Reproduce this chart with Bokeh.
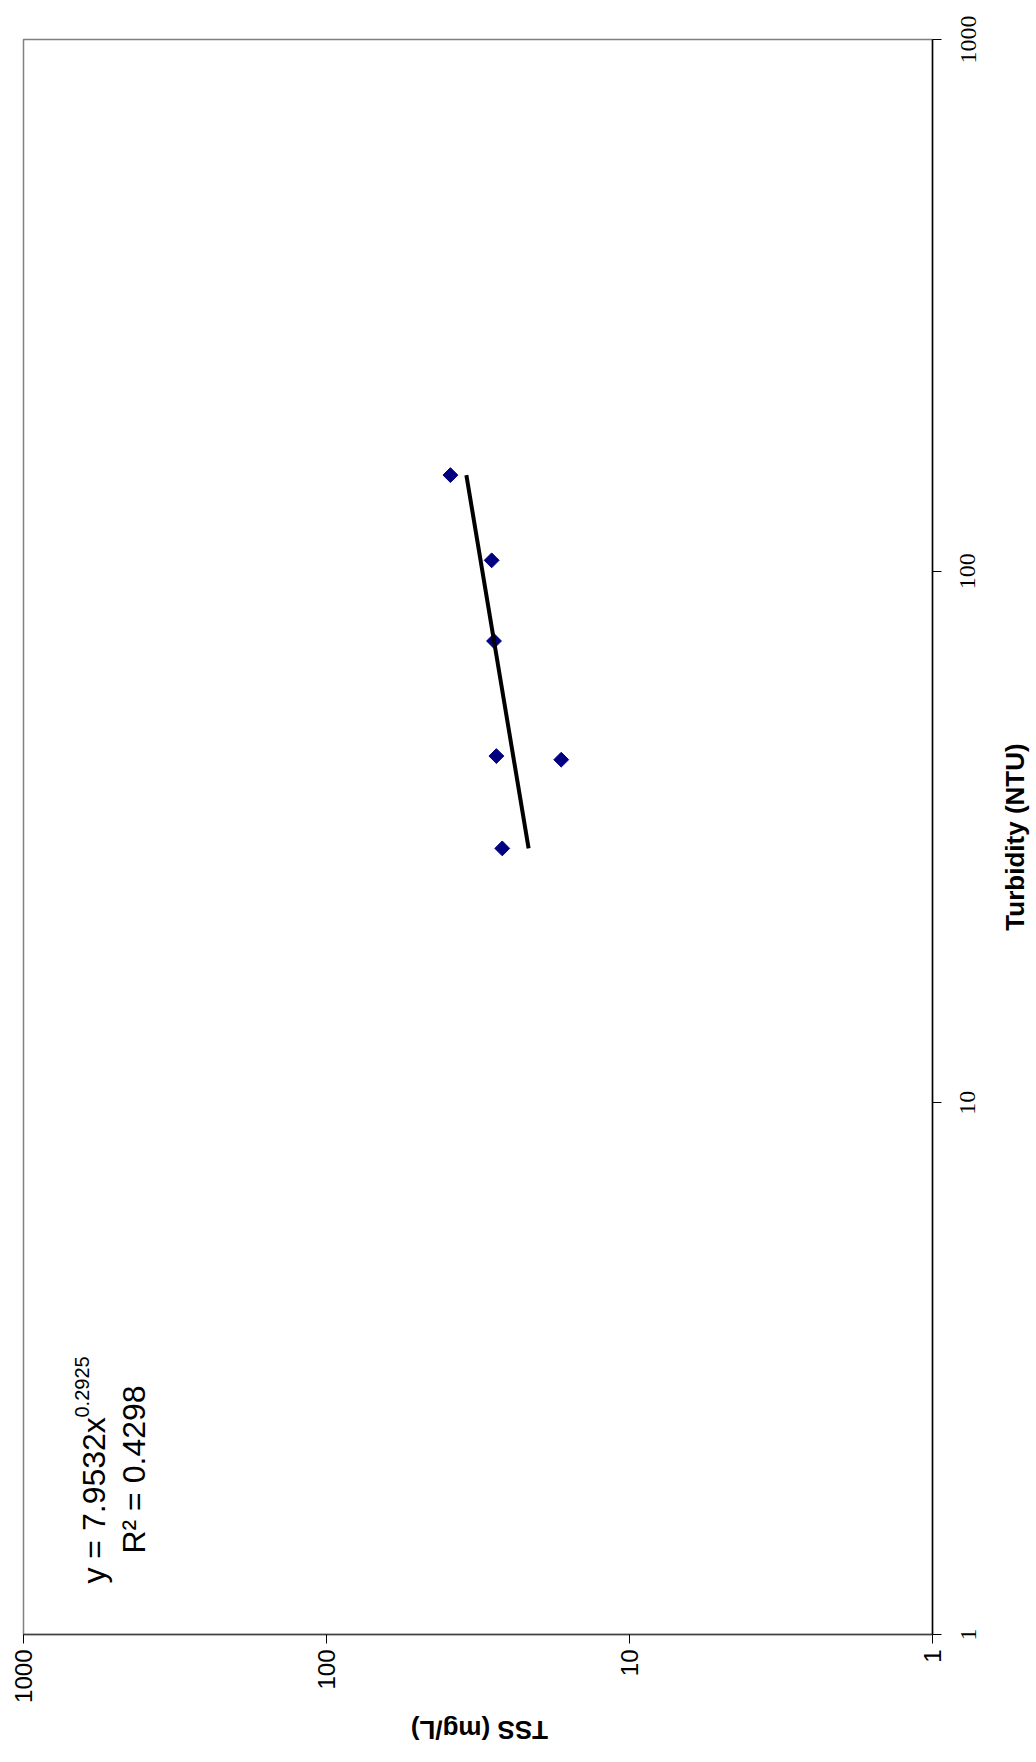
import math
from bokeh.plotting import figure
from bokeh.layouts import row, column
from bokeh.models import Range1d, FixedTicker, Label, LabelSet, ColumnDataSource, PrintfTickFormatter
from bokeh.embed import file_html
from bokeh.resources import INLINE

# ---- data ----
turbidity = [151.6, 104.8, 73.9, 44.9, 44.2, 30.1]   # NTU
tss = [39.0, 28.5, 28.0, 27.5, 16.8, 26.3]           # mg/L
fit_coef = 7.9532
fit_exp = 0.2925
r_squared = 0.4298
ticks = [1, 10, 100, 1000]
tick_labels = ["1", "10", "100", "1000"]
x_title = "Turbidity (NTU)"
y_title = "TSS (mg/L)"

FONT = "Liberation Sans"

# ---- page geometry (pixels) ----
PAGE_W, PAGE_H = 1036, 1762
FRAME_L, FRAME_T, FRAME_R, FRAME_B = 23, 39, 932, 1634
MAIN_W = 952          # main figure width (frame + right tick marks)
MAIN_H = 1714         # main figure height (frame + bottom axis)
Y_LO, Y_HI = 1, 1000  # turbidity range shown

# ---------------- main plot ----------------
p = figure(width=MAIN_W, height=MAIN_H,
           x_axis_type="log", y_axis_type="log",
           x_range=Range1d(1000, 1), y_range=Range1d(Y_LO, Y_HI),
           y_axis_location="right",
           output_backend="svg", toolbar_location=None,
           min_border_left=FRAME_L, min_border_top=FRAME_T,
           min_border_right=MAIN_W - FRAME_R, min_border_bottom=MAIN_H - FRAME_B)

p.background_fill_color = "white"
p.border_fill_color = "white"
p.outline_line_color = "#808080"
p.outline_line_width = 1.5
p.xgrid.visible = False
p.ygrid.visible = False

for ax in (p.xaxis[0], p.yaxis[0]):
    ax.ticker = FixedTicker(ticks=ticks, minor_ticks=[])
    ax.formatter = PrintfTickFormatter(format="%d")
    ax.major_tick_in = 0
    ax.major_tick_out = 9
    ax.minor_tick_in = 0
    ax.minor_tick_out = 0
    ax.major_tick_line_color = "black"
    ax.major_label_text_font = FONT
    ax.major_label_text_font_size = "24px"
    ax.major_label_text_color = "black"
    ax.major_label_orientation = math.pi / 2

p.xaxis.major_label_overrides = {t: s for t, s in zip(ticks, tick_labels)}
p.xaxis.axis_line_color = "#404040"
p.xaxis.axis_line_width = 1.5
p.xaxis.major_label_standoff = 6

p.yaxis.major_label_overrides = {t: "" for t in ticks}
p.yaxis.major_label_standoff = 0
p.yaxis.axis_line_color = "black"
p.yaxis.axis_line_width = 1.5

# data points
p.scatter(x=tss, y=turbidity, marker="square", size=10.5, angle=math.pi / 4,
          fill_color="#000080", line_color="#000080")

# power-law trendline between the smallest and largest turbidity
t_ends = [min(turbidity), max(turbidity)]
s_ends = [fit_coef * t ** fit_exp for t in t_ends]
p.line(x=s_ends, y=t_ends, line_color="black", line_width=4)

# equation labels
p.add_layout(Label(x=583.2, y=1.247, text="y = %.4fx" % fit_coef, angle=math.pi / 2,
                   text_align="left", text_baseline="alphabetic",
                   text_font=FONT, text_font_size="32px", text_color="black"))
p.add_layout(Label(x=638.9, y=2.559, text="%.4f" % fit_exp, angle=math.pi / 2,
                   text_align="left", text_baseline="alphabetic",
                   text_font=FONT, text_font_size="20px", text_color="black"))
p.add_layout(Label(x=430.3, y=1.42, text="R\u00b2 = %.4f" % r_squared, angle=math.pi / 2,
                   text_align="left", text_baseline="alphabetic",
                   text_font=FONT, text_font_size="32px", text_color="black"))

# ---------------- right strip: turbidity tick labels + title ----------------
px_per_decade = (FRAME_B - FRAME_T) / (math.log10(Y_HI) - math.log10(Y_LO))
strip_lo = 10 ** (math.log10(Y_LO) - (PAGE_H - FRAME_B) / px_per_decade)
strip_hi = 10 ** (math.log10(Y_HI) + FRAME_T / px_per_decade)

q = figure(width=PAGE_W - MAIN_W, height=PAGE_H, y_axis_type="log",
           x_range=Range1d(MAIN_W, PAGE_W), y_range=Range1d(strip_lo, strip_hi),
           x_axis_location=None, y_axis_location=None,
           min_border=0, output_backend="svg", toolbar_location=None)
q.outline_line_color = None
q.background_fill_color = "white"
q.border_fill_color = "white"
q.grid.visible = False

right_src = ColumnDataSource(dict(x=[960] * len(ticks), y=ticks, text=tick_labels))
q.add_layout(LabelSet(x="x", y="y", text="text", source=right_src, angle=math.pi / 2,
                      text_align="center", text_baseline="top",
                      text_font=FONT, text_font_size="24px", text_color="black"))
q.add_layout(Label(x=1014, y=math.sqrt(Y_LO * Y_HI), text=x_title, angle=math.pi / 2,
                   text_align="center", text_baseline="middle",
                   text_font=FONT, text_font_size="26px",
                   text_font_style="bold", text_color="black"))

# ---------------- bottom strip: TSS title ----------------
r = figure(width=MAIN_W, height=PAGE_H - MAIN_H,
           x_range=Range1d(0, MAIN_W), y_range=Range1d(PAGE_H, MAIN_H),
           x_axis_location=None, y_axis_location=None,
           min_border=0, output_backend="svg", toolbar_location=None)
r.outline_line_color = None
r.background_fill_color = "white"
r.border_fill_color = "white"
r.grid.visible = False
r.add_layout(Label(x=(FRAME_L + FRAME_R) / 2, y=1729, text=y_title, angle=math.pi,
                   text_align="center", text_baseline="middle",
                   text_font=FONT, text_font_size="26px",
                   text_font_style="bold", text_color="black"))

layout = row(column(p, r, spacing=0), q, spacing=0)
open("out.html", "w").write(file_html(layout, INLINE))
